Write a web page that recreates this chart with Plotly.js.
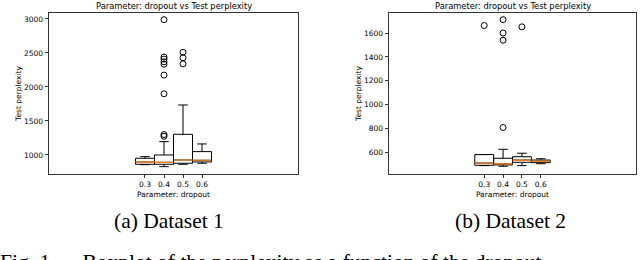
<!DOCTYPE html>
<html>
<head>
<meta charset="utf-8">
<script src="https://cdn.plot.ly/plotly-3.0.1.min.js"></script>
<style>html,body{margin:0;padding:0;background:#fff;}#chart{width:640px;height:260px;}</style>
</head>
<body>
<div id="chart"></div>
<script>
// Dropout values (categories)
var dropout = [0.3, 0.4, 0.5, 0.6];
var tickLabels = ["0.3", "0.4", "0.5", "0.6"];

// Dataset 1 box statistics
var d1Lower  = [857, 828, 863, 878];
var d1Q1     = [863, 863, 878, 897];
var d1Median = [897, 892, 926, 922];
var d1Q3     = [951, 1000, 1304, 1049];
var d1Upper  = [975, 1196, 1735, 1162];
var d1Outliers = [[], [2990, 2440, 2410, 2370, 2335, 2175, 1900, 1300, 1275], [2510, 2430, 2340], []];

// Dataset 2 box statistics
var d2Lower  = [488, 483, 488, 504];
var d2Q1     = [491, 494, 516, 513];
var d2Median = [510, 503, 535, 524];
var d2Q3     = [581, 550, 563, 535];
var d2Upper  = [581, 625, 592, 546];
var d2Outliers = [[1663], [1712, 1600, 1540, 808], [1652], []];

var titleText = "Parameter: dropout vs Test perplexity";
var xTitle = "Parameter: dropout";
var yTitle = "Test perplexity";
var captions = ["(a) Dataset 1", "(b) Dataset 2"];
var figCaption = "Fig. 1.\u2003 Boxplot of the perplexity as a function of the dropout";

function boxTrace(q1, med, q3, lo, hi, xa, ya) {
  return {
    type: "box", x: dropout, q1: q1, median: med, q3: q3,
    lowerfence: lo, upperfence: hi, width: 0.1, whiskerwidth: 0.5,
    boxpoints: false, xaxis: xa, yaxis: ya,
    line: {color: "#000", width: 1}, fillcolor: "rgba(255,255,255,0)",
    hoverinfo: "skip", showlegend: false
  };
}
function medianTrace(med, xa, ya) {
  return {
    type: "box", x: dropout, q1: med, median: med, q3: med,
    lowerfence: med, upperfence: med, width: 0.1, whiskerwidth: 0,
    boxpoints: false, xaxis: xa, yaxis: ya,
    line: {color: "#ff7f0e", width: 1.2}, fillcolor: "rgba(0,0,0,0)",
    hoverinfo: "skip", showlegend: false
  };
}
function outlierTrace(outs, xa, ya) {
  var xs = [], ys = [];
  outs.forEach(function (arr, i) { arr.forEach(function (v) { xs.push(dropout[i]); ys.push(v); }); });
  return {
    type: "scatter", mode: "markers", x: xs, y: ys, xaxis: xa, yaxis: ya,
    marker: {symbol: "circle-open", size: 6, color: "#000", line: {width: 1}},
    hoverinfo: "skip", showlegend: false
  };
}

var data = [
  boxTrace(d1Q1, d1Median, d1Q3, d1Lower, d1Upper, "x", "y"),
  medianTrace(d1Median, "x", "y"),
  outlierTrace(d1Outliers, "x", "y"),
  boxTrace(d2Q1, d2Median, d2Q3, d2Lower, d2Upper, "x2", "y2"),
  medianTrace(d2Median, "x2", "y2"),
  outlierTrace(d2Outliers, "x2", "y2")
];

var tickFont = {family: "DejaVu Sans", size: 7.5, color: "#000"};
function xAxis(dom, anchor) {
  return {
    domain: dom, anchor: anchor, range: [-0.205, 1.105],
    tickmode: "array", tickvals: dropout, ticktext: tickLabels,
    ticks: "outside", ticklen: 3.5, tickwidth: 0.8, tickcolor: "#000",
    showline: true, mirror: true, linecolor: "#333", linewidth: 1,
    showgrid: false, zeroline: false, tickfont: tickFont,
    title: {text: xTitle, font: tickFont, standoff: 3}
  };
}
function yAxis(range, dtick, anchor) {
  return {
    domain: [0.3308, 0.95], anchor: anchor, range: range, dtick: dtick,
    ticks: "outside", ticklen: 3.5, tickwidth: 0.8, tickcolor: "#000",
    showline: true, mirror: true, linecolor: "#333", linewidth: 1,
    showgrid: false, zeroline: false, tickfont: tickFont,
    title: {text: yTitle, font: tickFont, standoff: 1}
  };
}

var layout = {
  width: 640, height: 260,
  margin: {l: 0, r: 0, t: 0, b: 0},
  paper_bgcolor: "#fff", plot_bgcolor: "#fff",
  showlegend: false,
  xaxis: xAxis([49/640, 298/640], "y"),
  yaxis: yAxis([720, 3088], 500, "x"),
  xaxis2: xAxis([389/640, 636/640], "y2"),
  yaxis2: yAxis([418, 1768], 200, "x2"),
  annotations: [
    {text: titleText, x: (49+298)/2/640, y: 1 - 5.5/260, xref: "paper", yref: "paper",
     xanchor: "center", yanchor: "middle", showarrow: false,
     font: {family: "DejaVu Sans", size: 8.3, color: "#000"}},
    {text: titleText, x: (389+636)/2/640, y: 1 - 5.5/260, xref: "paper", yref: "paper",
     xanchor: "center", yanchor: "middle", showarrow: false,
     font: {family: "DejaVu Sans", size: 8.3, color: "#000"}},
    {text: captions[0], x: 169/640, y: 1 - 221/260, xref: "paper", yref: "paper",
     xanchor: "center", yanchor: "middle", showarrow: false,
     font: {family: "Liberation Serif", size: 21.5, color: "#000"}},
    {text: captions[1], x: 510/640, y: 1 - 221/260, xref: "paper", yref: "paper",
     xanchor: "center", yanchor: "middle", showarrow: false,
     font: {family: "Liberation Serif", size: 21.5, color: "#000"}},
    {text: figCaption, x: -2/640, y: 1 - 248/260, xref: "paper", yref: "paper",
     xanchor: "left", yanchor: "top", showarrow: false,
     font: {family: "Liberation Serif", size: 21.5, color: "#000"}}
  ]
};

Plotly.newPlot("chart", data, layout, {staticPlot: true, displayModeBar: false});
</script>
</body>
</html>
